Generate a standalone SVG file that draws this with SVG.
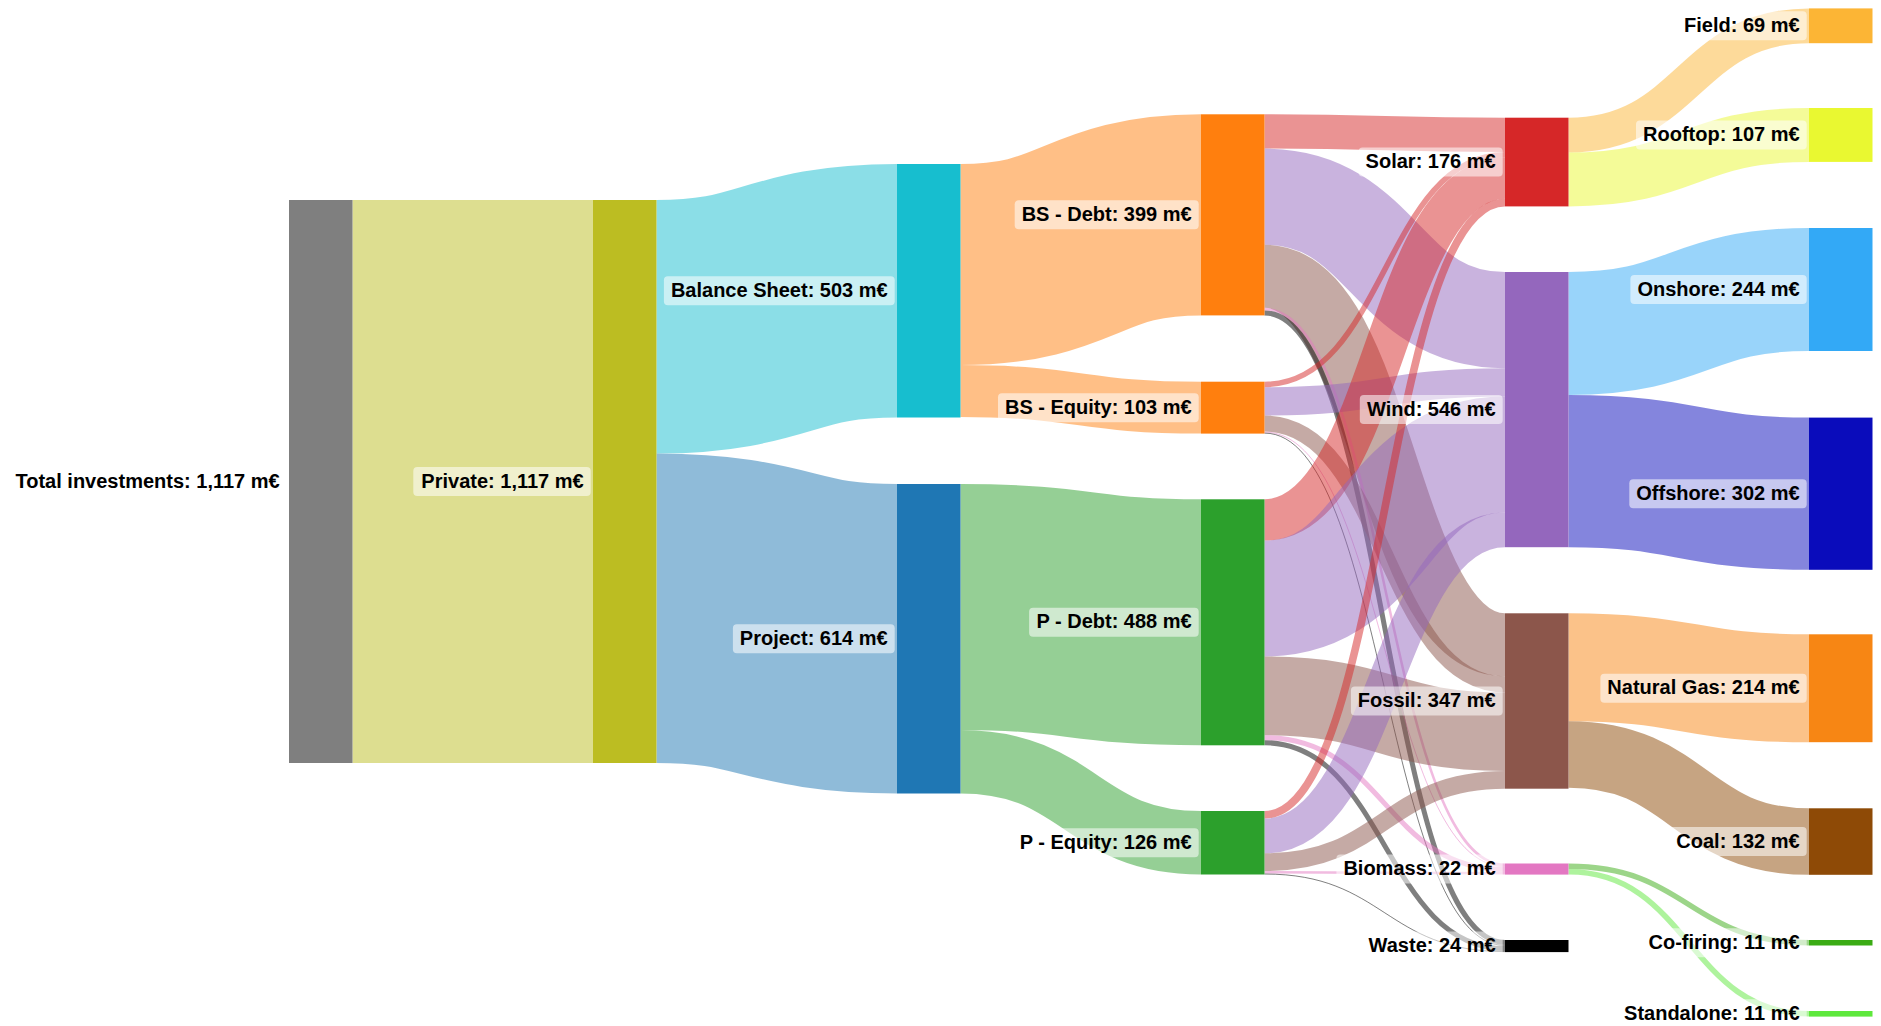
<svg xmlns="http://www.w3.org/2000/svg" width="1881" height="1026" viewBox="0 0 1881 1026">
<style>
.lk{fill:none;stroke-opacity:0.5}
.bx{fill:#fff;fill-opacity:0.55}
.t{font-family:"Liberation Sans",Arial,sans-serif;font-size:20px;font-weight:bold;fill:#000;text-anchor:end}
.gray{fill:#7f7f7f}.olive{fill:#bcbd22}.cyan{fill:#17becf}.blue{fill:#1f77b4}
.orange{fill:#ff7f0e}.green{fill:#2ca02c}.red{fill:#d62728}.purple{fill:#9467bd}
.brown{fill:#8c564b}.pink{fill:#e377c2}.black{fill:#000}
.field{fill:#fcb535}.roof{fill:#e9f831}.onsh{fill:#33a9f6}.offsh{fill:#0a0cbb}
.gas{fill:#f78614}.coal{fill:#8e4a06}.cofire{fill:#3aab14}.stand{fill:#5ee83c}
.s-olive{stroke:#bcbd22}.s-cyan{stroke:#17becf}.s-blue{stroke:#1f77b4}
.s-orange{stroke:#ff7f0e}.s-green{stroke:#2ca02c}.s-red{stroke:#d62728}.s-purple{stroke:#9467bd}
.s-brown{stroke:#8c564b}.s-pink{stroke:#e377c2}.s-black{stroke:#000}
.s-field{stroke:#fcb535}.s-roof{stroke:#e9f831}.s-onsh{stroke:#33a9f6}.s-offsh{stroke:#0a0cbb}
.s-gas{stroke:#f78614}.s-coal{stroke:#8e4a06}.s-cofire{stroke:#3aab14}.s-stand{stroke:#5ee83c}
</style>
<rect width="1881" height="1026" fill="#fff"/>
<g id="links">
<path class="lk s-olive" stroke-width="563" d="M352.5 481.5 C472.75 481.5 472.75 481.5 593 481.5"/>
<path class="lk s-cyan" stroke-width="253.5" d="M656.5 326.75 C776.75 326.75 776.75 290.75 897 290.75"/>
<path class="lk s-blue" stroke-width="309.5" d="M656.5 608.25 C776.75 608.25 776.75 638.75 897 638.75"/>
<path class="lk s-orange" stroke-width="201.1" d="M960.5 264.55 C1080.75 264.55 1080.75 214.85 1201 214.85"/>
<path class="lk s-orange" stroke-width="51.9" d="M960.5 391.05 C1080.75 391.05 1080.75 407.65 1201 407.65"/>
<path class="lk s-green" stroke-width="246" d="M960.5 607 C1080.75 607 1080.75 622.3 1201 622.3"/>
<path class="lk s-green" stroke-width="63.5" d="M960.5 761.75 C1080.75 761.75 1080.75 842.75 1201 842.75"/>
<path class="lk s-red" stroke-width="34.3" d="M1264.5 131.45 C1384.75 131.45 1384.75 134.85 1505 134.85"/>
<path class="lk s-purple" stroke-width="96.2" d="M1264.5 196.7 C1384.75 196.7 1384.75 320.15 1505 320.15"/>
<path class="lk s-brown" stroke-width="63" d="M1264.5 276.3 C1384.75 276.3 1384.75 644.8 1505 644.8"/>
<path class="lk s-pink" stroke-width="2.55" d="M1264.5 309.1 C1384.75 309.1 1384.75 864.75 1505 864.75"/>
<path class="lk s-black" stroke-width="5" d="M1264.5 312.9 C1384.75 312.9 1384.75 942.5 1505 942.5"/>
<path class="lk s-red" stroke-width="5.5" d="M1264.5 384.45 C1384.75 384.45 1384.75 154.75 1505 154.75"/>
<path class="lk s-purple" stroke-width="28.25" d="M1264.5 401.35 C1384.75 401.35 1384.75 382.4 1505 382.4"/>
<path class="lk s-brown" stroke-width="16.1" d="M1264.5 423.55 C1384.75 423.55 1384.75 684.35 1505 684.35"/>
<path class="lk s-pink" stroke-width="1" d="M1264.5 432.1 C1384.75 432.1 1384.75 866.5 1505 866.5"/>
<path class="lk s-black" stroke-width="1" d="M1264.5 433.1 C1384.75 433.1 1384.75 945.5 1505 945.5"/>
<path class="lk s-red" stroke-width="41.3" d="M1264.5 519.95 C1384.75 519.95 1384.75 178.15 1505 178.15"/>
<path class="lk s-purple" stroke-width="115.9" d="M1264.5 598.55 C1384.75 598.55 1384.75 454.45 1505 454.45"/>
<path class="lk s-brown" stroke-width="78.65" d="M1264.5 695.85 C1384.75 695.85 1384.75 731.7 1505 731.7"/>
<path class="lk s-pink" stroke-width="5.05" d="M1264.5 737.7 C1384.75 737.7 1384.75 869.55 1505 869.55"/>
<path class="lk s-black" stroke-width="5.05" d="M1264.5 742.75 C1384.75 742.75 1384.75 948.55 1505 948.55"/>
<path class="lk s-red" stroke-width="7.6" d="M1264.5 814.8 C1384.75 814.8 1384.75 202.6 1505 202.6"/>
<path class="lk s-purple" stroke-width="34.75" d="M1264.5 835.95 C1384.75 835.95 1384.75 529.8 1505 529.8"/>
<path class="lk s-brown" stroke-width="17.7" d="M1264.5 862.15 C1384.75 862.15 1384.75 779.85 1505 779.85"/>
<path class="lk s-pink" stroke-width="2.5" d="M1264.5 872.25 C1384.75 872.25 1384.75 873.35 1505 873.35"/>
<path class="lk s-black" stroke-width="1" d="M1264.5 874 C1384.75 874 1384.75 951.6 1505 951.6"/>
<path class="lk s-field" stroke-width="34.8" d="M1568.5 135.1 C1688.75 135.1 1688.75 25.8 1809 25.8"/>
<path class="lk s-roof" stroke-width="53.9" d="M1568.5 179.45 C1688.75 179.45 1688.75 134.95 1809 134.95"/>
<path class="lk s-onsh" stroke-width="123" d="M1568.5 333.5 C1688.75 333.5 1688.75 289.5 1809 289.5"/>
<path class="lk s-offsh" stroke-width="152.2" d="M1568.5 471.1 C1688.75 471.1 1688.75 493.7 1809 493.7"/>
<path class="lk s-gas" stroke-width="107.9" d="M1568.5 667.25 C1688.75 667.25 1688.75 688.25 1809 688.25"/>
<path class="lk s-coal" stroke-width="66.5" d="M1568.5 754.45 C1688.75 754.45 1688.75 841.55 1809 841.55"/>
<path class="lk s-cofire" stroke-width="5.5" d="M1568.5 866.25 C1688.75 866.25 1688.75 942.75 1809 942.75"/>
<path class="lk s-stand" stroke-width="5.6" d="M1568.5 871.8 C1688.75 871.8 1688.75 1013.8 1809 1013.8"/>
</g>
<g id="node-total"><rect class="gray" x="289" y="200" width="63.5" height="563"/><text class="t" x="279.7" y="487.5">Total investments: 1,117 m€</text></g>
<g id="node-private"><rect class="olive" x="593" y="200" width="63.5" height="563"/><rect class="bx" x="413.3" y="467" width="177.4" height="29" rx="4"/><text class="t" x="583.7" y="487.5">Private: 1,117 m€</text></g>
<g id="node-balance-sheet"><rect class="cyan" x="897" y="164" width="63.5" height="253.5"/><rect class="bx" x="663.9" y="276.25" width="230.8" height="29" rx="4"/><text class="t" x="887.7" y="296.75">Balance Sheet: 503 m€</text></g>
<g id="node-project"><rect class="blue" x="897" y="484" width="63.5" height="309.5"/><rect class="bx" x="732.9" y="624.25" width="161.8" height="29" rx="4"/><text class="t" x="887.7" y="644.75">Project: 614 m€</text></g>
<g id="node-bs-debt"><rect class="orange" x="1201" y="114.3" width="63.5" height="201.1"/><rect class="bx" x="1014.7" y="200.35" width="184" height="29" rx="4"/><text class="t" x="1191.7" y="220.85">BS - Debt: 399 m€</text></g>
<g id="node-bs-equity"><rect class="orange" x="1201" y="381.7" width="63.5" height="51.9"/><rect class="bx" x="998" y="393.15" width="200.7" height="29" rx="4"/><text class="t" x="1191.7" y="413.65">BS - Equity: 103 m€</text></g>
<g id="node-p-debt"><rect class="green" x="1201" y="499.3" width="63.5" height="246"/><rect class="bx" x="1029.1" y="607.8" width="169.6" height="29" rx="4"/><text class="t" x="1191.7" y="628.3">P - Debt: 488 m€</text></g>
<g id="node-p-equity"><rect class="green" x="1201" y="811" width="63.5" height="63.5"/><rect class="bx" x="1012.4" y="828.25" width="186.3" height="29" rx="4"/><text class="t" x="1191.7" y="848.75">P - Equity: 126 m€</text></g>
<g id="node-solar"><rect class="red" x="1505" y="117.7" width="63.5" height="88.7"/><rect class="bx" x="1358.6" y="147.55" width="144.1" height="29" rx="4"/><text class="t" x="1495.7" y="168.05">Solar: 176 m€</text></g>
<g id="node-wind"><rect class="purple" x="1505" y="272" width="63.5" height="275.2"/><rect class="bx" x="1359.8" y="395.1" width="142.9" height="29" rx="4"/><text class="t" x="1495.7" y="415.6">Wind: 546 m€</text></g>
<g id="node-fossil"><rect class="brown" x="1505" y="613.3" width="63.5" height="175.4"/><rect class="bx" x="1350.9" y="686.5" width="151.8" height="29" rx="4"/><text class="t" x="1495.7" y="707">Fossil: 347 m€</text></g>
<g id="node-biomass"><rect class="pink" x="1505" y="863.5" width="63.5" height="11.1"/><rect class="bx" x="1336.4" y="854.5" width="166.3" height="29" rx="4"/><text class="t" x="1495.7" y="875">Biomass: 22 m€</text></g>
<g id="node-waste"><rect class="black" x="1505" y="940" width="63.5" height="12.1"/><rect class="bx" x="1360.9" y="931.5" width="141.8" height="29" rx="4"/><text class="t" x="1495.7" y="952">Waste: 24 m€</text></g>
<g id="node-field"><rect class="field" x="1809" y="8.4" width="63.5" height="34.8"/><rect class="bx" x="1677.1" y="11.3" width="129.6" height="29" rx="4"/><text class="t" x="1799.7" y="31.8">Field: 69 m€</text></g>
<g id="node-rooftop"><rect class="roof" x="1809" y="108" width="63.5" height="53.9"/><rect class="bx" x="1636" y="120.5" width="170.7" height="29" rx="4"/><text class="t" x="1799.7" y="141">Rooftop: 107 m€</text></g>
<g id="node-onshore"><rect class="onsh" x="1809" y="228" width="63.5" height="123"/><rect class="bx" x="1630.4" y="275" width="176.3" height="29" rx="4"/><text class="t" x="1799.7" y="295.5">Onshore: 244 m€</text></g>
<g id="node-offshore"><rect class="offsh" x="1809" y="417.6" width="63.5" height="152.2"/><rect class="bx" x="1629.3" y="479.2" width="177.4" height="29" rx="4"/><text class="t" x="1799.7" y="499.7">Offshore: 302 m€</text></g>
<g id="node-natural-gas"><rect class="gas" x="1809" y="634.3" width="63.5" height="107.9"/><rect class="bx" x="1600.4" y="673.7" width="206.3" height="29" rx="4"/><text class="t" x="1799.7" y="694.2">Natural Gas: 214 m€</text></g>
<g id="node-coal"><rect class="coal" x="1809" y="808.3" width="63.5" height="66.5"/><rect class="bx" x="1669.3" y="827" width="137.4" height="29" rx="4"/><text class="t" x="1799.7" y="847.5">Coal: 132 m€</text></g>
<g id="node-co-firing"><rect class="cofire" x="1809" y="940" width="63.5" height="5.5"/><rect class="bx" x="1640.5" y="928.25" width="166.2" height="29" rx="4"/><text class="t" x="1799.7" y="948.75">Co-firing: 11 m€</text></g>
<g id="node-standalone"><rect class="stand" x="1809" y="1011" width="63.5" height="5.6"/><rect class="bx" x="1616" y="999.3" width="190.7" height="29" rx="4"/><text class="t" x="1799.7" y="1019.8">Standalone: 11 m€</text></g>
</svg>
